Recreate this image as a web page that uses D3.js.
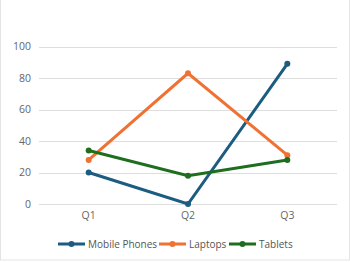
<!DOCTYPE html>
<html><head><meta charset="utf-8">
<script src="https://cdn.jsdelivr.net/npm/d3@7"></script>
<style>html,body{margin:0;padding:0;background:#fff;}svg{display:block;font-family:"Open Sans","Noto Sans",sans-serif;}</style>
</head><body><svg id="c" width="350" height="262"></svg>
<script>
const categories = ["Q1","Q2","Q3"];
const seriesNames = ["Mobile Phones","Laptops","Tablets"];
const mobilePhones = [20, 0, 89];
const laptops = [28, 83, 31];
const tablets = [34, 18, 28];
const colors = ["#1b5c80","#f07232","#1f6e1f"];
const yTicks = [0,20,40,60,80,100];

const series = [mobilePhones, laptops, tablets];
const svg = d3.select("#c");
svg.append("rect").attr("x",0.5).attr("y",-1).attr("width",349).attr("height",261)
  .attr("fill","none").attr("stroke","#e4e4e4");

const x = d3.scaleBand().domain(categories).range([39, 337]);
const y = d3.scaleLinear().domain([0,100]).range([204, 46.5]);

const gy = svg.append("g");
yTicks.forEach(t=>{
  gy.append("line").attr("x1",39).attr("x2",337).attr("y1",Math.round(y(t))+0.5).attr("y2",Math.round(y(t))+0.5)
    .attr("stroke","#dedede").attr("stroke-width",1);
  gy.append("text").attr("x",31).attr("y",y(t)).attr("dy","0.35em").attr("text-anchor","end")
    .attr("font-size",10.5).attr("fill","#666").text(t);
});
categories.forEach(c=>{
  svg.append("text").attr("x",x(c)+x.bandwidth()/2).attr("y",215.5).attr("dy","0.35em").attr("text-anchor","middle")
    .attr("font-size",10.5).attr("fill","#666").text(c);
});

const line = d3.line().x((d,i)=>x(categories[i])+x.bandwidth()/2).y(d=>y(d));
series.forEach((s,k)=>{
  svg.append("path").datum(s).attr("d",line).attr("fill","none").attr("stroke",colors[k]).attr("stroke-width",3);
  svg.selectAll(null).data(s).enter().append("circle")
    .attr("cx",(d,i)=>x(categories[i])+x.bandwidth()/2).attr("cy",d=>y(d)).attr("r",3).attr("fill",colors[k]);
});

const legX = [58, 159, 229];
seriesNames.forEach((n,k)=>{
  const g = svg.append("g").attr("transform",`translate(${legX[k]},244)`);
  g.append("line").attr("x1",0).attr("x2",27).attr("y1",0).attr("y2",0).attr("stroke",colors[k]).attr("stroke-width",3);
  g.append("circle").attr("cx",13.5).attr("cy",0).attr("r",3).attr("fill",colors[k]);
  g.append("text").attr("x",30).attr("y",0).attr("dy","0.35em").attr("font-size",10).attr("fill","#555").text(n);
});
</script></body></html>
